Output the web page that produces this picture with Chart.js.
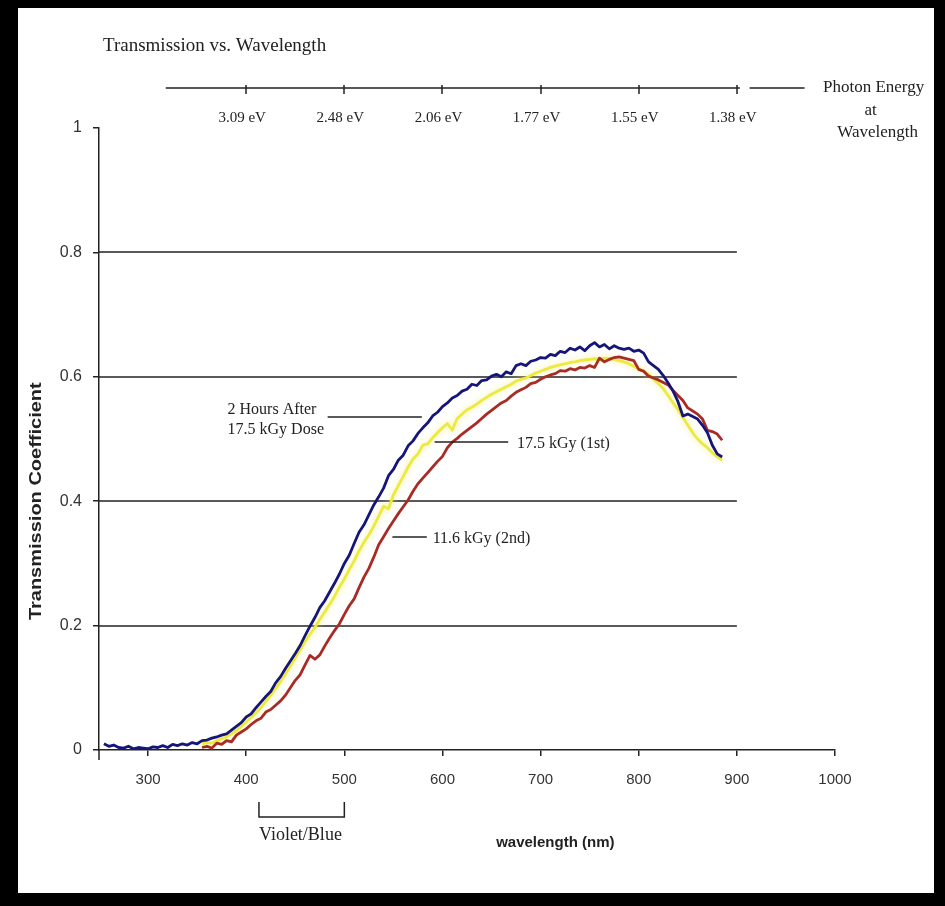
<!DOCTYPE html>
<html>
<head>
<meta charset="utf-8">
<title>Transmission vs. Wavelength</title>
<script src="https://cdn.jsdelivr.net/npm/chart.js@4.4.0/dist/chart.umd.min.js"></script>
<style>
  html, body { margin: 0; padding: 0; background: #000; }
  #panel { position: absolute; left: 18px; top: 8px; width: 916px; height: 885px; background: #fff; }
</style>
</head>
<body>
<div id="panel"><canvas id="transmissionChart" width="916" height="885"></canvas></div>
<script>
// wavelength samples (nm)
const wavelengths = [
  255, 260, 265, 270, 275, 280, 285, 290, 295, 300,
  305, 310, 315, 320, 325, 330, 335, 340, 345, 350,
  355, 360, 365, 370, 375, 380, 385, 390, 395, 400,
  405, 410, 415, 420, 425, 430, 435, 440, 445, 450,
  455, 460, 465, 470, 475, 480, 485, 490, 495, 500,
  505, 510, 515, 520, 525, 530, 535, 540, 545, 550,
  555, 560, 565, 570, 575, 580, 585, 590, 595, 600,
  605, 610, 615, 620, 625, 630, 635, 640, 645, 650,
  655, 660, 665, 670, 675, 680, 685, 690, 695, 700,
  705, 710, 715, 720, 725, 730, 735, 740, 745, 750,
  755, 760, 765, 770, 775, 780, 785, 790, 795, 800,
  805, 810, 815, 820, 825, 830, 835, 840, 845, 850,
  855, 860, 865, 870, 875, 880, 885
];

// 2 hours after the 17.5 kGy dose
const afterDose2h = [
  0.010, 0.006, 0.008, 0.004, 0.003, 0.006, 0.002, 0.004, 0.003, 0.002,
  0.005, 0.004, 0.007, 0.004, 0.009, 0.007, 0.010, 0.008, 0.012, 0.010,
  0.015, 0.016, 0.019, 0.021, 0.024, 0.026, 0.032, 0.038, 0.044, 0.053,
  0.058, 0.068, 0.077, 0.086, 0.094, 0.108, 0.118, 0.131, 0.143, 0.155,
  0.168, 0.184, 0.199, 0.213, 0.229, 0.240, 0.254, 0.268, 0.283, 0.300,
  0.313, 0.332, 0.350, 0.362, 0.378, 0.394, 0.407, 0.421, 0.441, 0.451,
  0.466, 0.474, 0.489, 0.497, 0.509, 0.518, 0.526, 0.537, 0.543, 0.552,
  0.558, 0.566, 0.570, 0.577, 0.580, 0.588, 0.586, 0.594, 0.595, 0.601,
  0.604, 0.600, 0.608, 0.605, 0.618, 0.621, 0.618, 0.625, 0.627, 0.631,
  0.630, 0.636, 0.634, 0.641, 0.639, 0.646, 0.643, 0.648, 0.642, 0.650,
  0.655, 0.648, 0.652, 0.645, 0.650, 0.646, 0.644, 0.646, 0.641, 0.643,
  0.638, 0.624, 0.618, 0.612, 0.602, 0.590, 0.577, 0.560, 0.537, 0.540,
  0.536, 0.532, 0.522, 0.510, 0.490, 0.476, 0.471
];

// 11.6 kGy, second exposure
const secondDose = [
  null, null, null, null, null, null, null, null, null, null,
  null, null, null, null, null, null, null, null, null, null,
  0.004, 0.006, 0.003, 0.011, 0.009, 0.015, 0.013, 0.024, 0.029, 0.034,
  0.041, 0.047, 0.051, 0.061, 0.065, 0.072, 0.079, 0.088, 0.100, 0.112,
  0.121, 0.137, 0.152, 0.146, 0.153, 0.167, 0.180, 0.192, 0.203, 0.218,
  0.232, 0.243, 0.261, 0.278, 0.292, 0.310, 0.330, 0.343, 0.356, 0.368,
  0.380, 0.391, 0.402, 0.416, 0.428, 0.437, 0.446, 0.455, 0.464, 0.472,
  0.486, 0.495, 0.501, 0.508, 0.514, 0.520, 0.526, 0.533, 0.540, 0.546,
  0.552, 0.558, 0.562, 0.569, 0.575, 0.579, 0.583, 0.589, 0.591, 0.596,
  0.600, 0.603, 0.605, 0.610, 0.609, 0.613, 0.611, 0.615, 0.614, 0.618,
  0.615, 0.630, 0.624, 0.628, 0.631, 0.632, 0.630, 0.628, 0.626, 0.612,
  0.609, 0.601, 0.598, 0.595, 0.591, 0.587, 0.578, 0.570, 0.562, 0.550,
  0.545, 0.540, 0.532, 0.514, 0.512, 0.508, 0.498
];

// 17.5 kGy, first exposure
const firstDose = [
  null, null, null, null, null, null, null, null, null, null,
  null, null, null, null, null, null, null, null, null, null,
  0.010, 0.012, 0.011, 0.015, 0.018, 0.021, 0.026, 0.031, 0.038, 0.045,
  0.052, 0.060, 0.068, 0.078, 0.088, 0.099, 0.110, 0.122, 0.135, 0.148,
  0.161, 0.174, 0.186, 0.197, 0.210, 0.222, 0.234, 0.247, 0.262, 0.275,
  0.290, 0.304, 0.320, 0.334, 0.346, 0.360, 0.376, 0.392, 0.388, 0.410,
  0.425, 0.440, 0.455, 0.468, 0.476, 0.490, 0.492, 0.502, 0.510, 0.518,
  0.525, 0.514, 0.533, 0.540, 0.547, 0.551, 0.556, 0.562, 0.567, 0.572,
  0.576, 0.580, 0.584, 0.588, 0.593, 0.596, 0.598, 0.602, 0.606, 0.609,
  0.612, 0.615, 0.617, 0.619, 0.621, 0.623, 0.624, 0.626, 0.627, 0.628,
  0.629, 0.628, 0.630, 0.629, 0.628, 0.626, 0.624, 0.621, 0.617, 0.612,
  0.610, 0.604, 0.596, 0.589, 0.581, 0.570, 0.558, 0.547, 0.535, 0.522,
  0.510, 0.500, 0.492, 0.486, 0.478, 0.471, 0.466
];

const xTicks = [300, 400, 500, 600, 700, 800, 900, 1000];
const yTicks = [0, 0.2, 0.4, 0.6, 0.8, 1];
const energyLabels = ['3.09 eV', '2.48 eV', '2.06 eV', '1.77 eV', '1.55 eV', '1.38 eV'];
const energyWavelengths = [400, 500, 600, 700, 800, 900];

// curve labels: text anchor and leader line, in (nm, T)
const callouts = [
  { lines: ['2 Hours After', '17.5 kGy Dose'], at: [381, 0.531], from: 483, to: 579, y: 0.535 },
  { lines: ['17.5 kGy (1st)'], at: [676, 0.492], from: 592, to: 667, y: 0.495 },
  { lines: ['11.6 kGy (2nd)'], at: [590, 0.340], from: 549, to: 584, y: 0.342 }
];

const serif = '"Liberation Serif", "Times New Roman", serif';
const sans = '"Liberation Sans", Arial, sans-serif';
const ink = '#222';

const toPoints = (values) => wavelengths.map((w, i) => ({ x: w, y: values[i] }));

const chartDecor = {
  id: 'chartDecor',
  beforeDatasetsDraw(chart) {
    const { ctx, scales: { x, y } } = chart;
    ctx.save();
    ctx.strokeStyle = ink;
    ctx.lineWidth = 1.5;
    // grid lines stop at 900 nm
    yTicks.filter(v => v > 0 && v < 1).forEach(v => {
      const py = Math.round(y.getPixelForValue(v));
      ctx.beginPath();
      ctx.moveTo(x.getPixelForValue(250), py);
      ctx.lineTo(x.getPixelForValue(900), py);
      ctx.stroke();
    });
    // axis runs a little below zero
    ctx.beginPath();
    ctx.moveTo(x.getPixelForValue(250), y.getPixelForValue(0));
    ctx.lineTo(x.getPixelForValue(250), y.getPixelForValue(0) + 10);
    ctx.stroke();
    ctx.restore();
  },
  beforeDatasetDraw(chart, args) {
    const ctx = chart.ctx;
    ctx.save();
    if (args.index === 2) {
      ctx.shadowColor = 'rgba(240, 236, 120, 0.8)';
      ctx.shadowBlur = 6;
    }
  },
  afterDatasetDraw(chart) {
    chart.ctx.restore();
  },
  afterDraw(chart) {
    const { ctx, chartArea, scales: { x, y } } = chart;
    ctx.save();
    ctx.fillStyle = ink;
    ctx.strokeStyle = ink;
    ctx.textBaseline = 'middle';

    ctx.font = `19px ${serif}`;
    ctx.textAlign = 'left';
    ctx.fillText('Transmission vs. Wavelength', chartArea.left + 4, 38);

    // photon energy scale above the plot
    const ly = chartArea.top - 40;
    ctx.lineWidth = 1.5;
    ctx.beginPath();
    ctx.moveTo(x.getPixelForValue(318), ly);
    ctx.lineTo(x.getPixelForValue(903), ly);
    ctx.moveTo(x.getPixelForValue(913), ly);
    ctx.lineTo(x.getPixelForValue(969), ly);
    energyWavelengths.forEach(w => {
      const px = Math.round(x.getPixelForValue(w));
      ctx.moveTo(px, ly - 3);
      ctx.lineTo(px, ly + 6);
    });
    ctx.stroke();

    ctx.font = `15px ${serif}`;
    ctx.textAlign = 'center';
    energyLabels.forEach((label, i) => {
      ctx.fillText(label, x.getPixelForValue(energyWavelengths[i]) - 4, chartArea.top - 10);
    });

    ctx.font = `17px ${serif}`;
    const ex = x.getPixelForValue(969) + 69;
    ctx.fillText('Photon Energy', ex, ly);
    ctx.fillText('at', ex - 3, ly + 23);
    ctx.fillText('Wavelength', ex + 4, ly + 45);

    // curve callouts
    ctx.font = `16px ${serif}`;
    ctx.textAlign = 'left';
    callouts.forEach(c => {
      const py = Math.round(y.getPixelForValue(c.y));
      ctx.beginPath();
      ctx.moveTo(x.getPixelForValue(c.from), py);
      ctx.lineTo(x.getPixelForValue(c.to), py);
      ctx.stroke();
      const tx = x.getPixelForValue(c.at[0]);
      const ty = y.getPixelForValue(c.at[1]);
      const top = ty - (c.lines.length - 1) * 10;
      c.lines.forEach((line, i) => ctx.fillText(line, tx, top + i * 20));
    });

    // violet/blue band under the axis
    const b0 = x.getPixelForValue(413);
    const b1 = x.getPixelForValue(500);
    const by = chartArea.bottom;
    ctx.beginPath();
    ctx.moveTo(b0, by + 52);
    ctx.lineTo(b0, by + 67);
    ctx.lineTo(b1, by + 67);
    ctx.lineTo(b1, by + 52);
    ctx.stroke();
    ctx.font = `18px ${serif}`;
    ctx.fillText('Violet/Blue', b0, by + 85);

    // axis titles
    ctx.font = `bold 15px ${sans}`;
    ctx.textAlign = 'center';
    ctx.fillText('wavelength (nm)', x.getPixelForValue(715), by + 93);
    ctx.translate(19, y.getPixelForValue(0.4));
    ctx.rotate(-Math.PI / 2);
    ctx.scale(1.25, 1);
    ctx.font = `bold 16px ${sans}`;
    ctx.fillText('Transmission Coefficient', 0, 0);
    ctx.restore();
  }
};

new Chart(document.getElementById('transmissionChart'), {
  type: 'line',
  data: {
    datasets: [
      { label: '2 Hours After 17.5 kGy Dose', data: toPoints(afterDose2h), borderColor: '#15157a', borderWidth: 2.8 },
      { label: '11.6 kGy (2nd)', data: toPoints(secondDose), borderColor: '#a82b26', borderWidth: 2.8 },
      { label: '17.5 kGy (1st)', data: toPoints(firstDose), borderColor: '#ecea3c', borderWidth: 2.8 }
    ]
  },
  options: {
    responsive: false,
    animation: false,
    layout: { padding: { top: 120, right: 99, left: 0, bottom: 0 } },
    elements: { point: { radius: 0 }, line: { tension: 0, borderJoinStyle: 'round' } },
    plugins: { legend: { display: false }, tooltip: { enabled: false } },
    scales: {
      x: {
        type: 'linear',
        min: 250,
        max: 1000,
        afterBuildTicks: (scale) => { scale.ticks = xTicks.map(v => ({ value: v })); },
        afterFit: (scale) => { scale.height = 143; },
        grid: { drawOnChartArea: false, tickLength: 6, color: ink, lineWidth: 1.5 },
        border: { color: ink, width: 1.5 },
        ticks: { padding: 15, color: '#333', font: { family: sans, size: 15 }, maxRotation: 0, callback: (v) => String(v) }
      },
      y: {
        min: 0,
        max: 1,
        afterBuildTicks: (scale) => { scale.ticks = yTicks.map(v => ({ value: v })); },
        afterFit: (scale) => { scale.width = 81; },
        grid: { drawOnChartArea: false, tickLength: 6, color: ink, lineWidth: 1.5 },
        border: { color: ink, width: 1.5 },
        ticks: { padding: 11, color: '#333', font: { family: sans, size: 16 }, callback: (v) => String(v) }
      }
    }
  },
  plugins: [chartDecor]
});
</script>
</body>
</html>
